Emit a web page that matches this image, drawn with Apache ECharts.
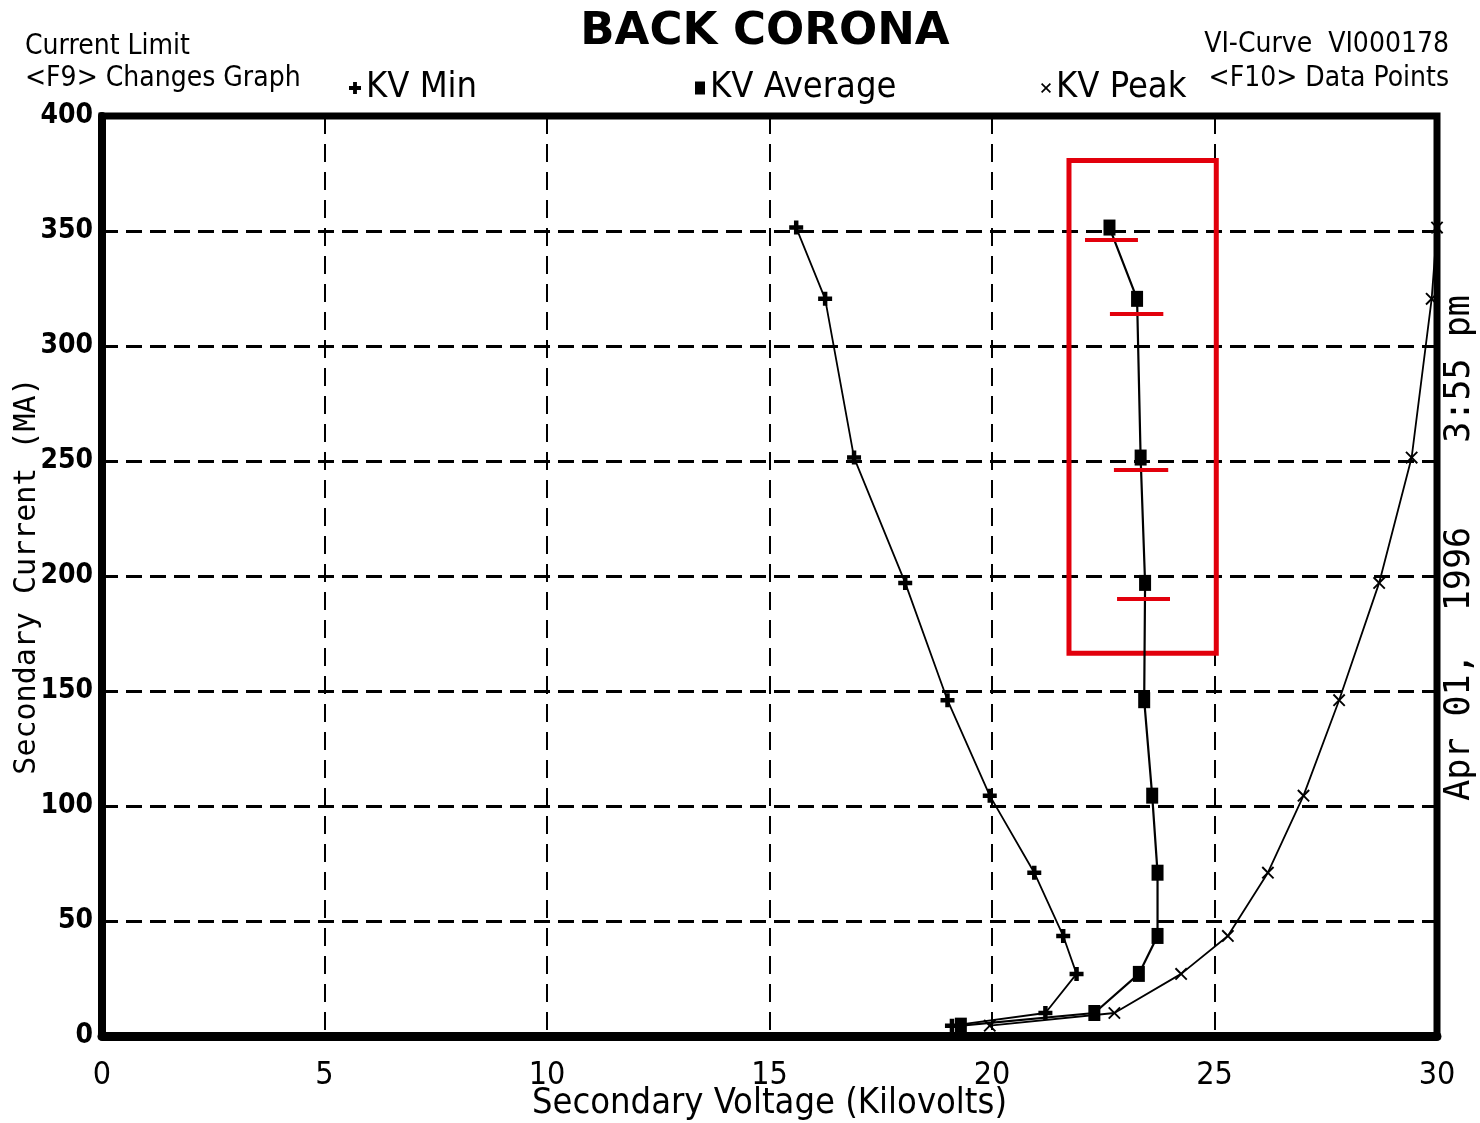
<!DOCTYPE html>
<html>
<head>
<meta charset="utf-8">
<title>BACK CORONA - VI Curve</title>
<script src="https://cdn.jsdelivr.net/npm/echarts@6/dist/echarts.min.js"></script>
<style>
  html, body { margin: 0; padding: 0; background: #fff; }
  #chart { width: 1480px; height: 1123px; }
</style>
</head>
<body>
<div id="chart"></div>
<script>
// Secondary current (mA) for each recorded step, shared by all three voltage readings
const currentMA = [4.5, 10, 27, 43.5, 71, 104.5, 146, 197, 251.5, 320.5, 351.5];
// Secondary voltage (kV) at each current step
const kvMin     = [19.1, 21.2, 21.9, 21.6, 20.95, 19.95, 19.0, 18.05, 16.9, 16.25, 15.6];
const kvAverage = [19.3, 22.3, 23.3, 23.72, 23.72, 23.6, 23.42, 23.44, 23.34, 23.26, 22.64];
const kvPeak    = [19.95, 22.75, 24.25, 25.3, 26.2, 27.0, 27.8, 28.7, 29.43, 29.88, 30.0];

// Axis ticks
const xTicks = [0, 5, 10, 15, 20, 25, 30];
const yTicks = [0, 50, 100, 150, 200, 250, 300, 350, 400];

// Highlight box around the flattening average curve (kV range, mA range)
const boxKV = [21.73, 25.04];
const boxMA = [166.4, 380.7];
// Short reference bars under the average points: [kV start, kV end, mA]
const barStartKV = [22.09, 22.65, 22.74, 22.81];
const barEndKV   = [23.28, 23.85, 23.96, 24.0];
const barMA      = [346.0, 314.2, 246.2, 189.9];

const NARROW = "'Liberation Sans Narrow', 'DejaVu Sans Condensed', 'Roboto', sans-serif";
const MONO = "'DejaVu Sans Mono', 'Liberation Mono', monospace";

const plusPath  = 'path://M3.4,0H6.6V3.4H10V6.6H6.6V10H3.4V6.6H0V3.4H3.4Z';
const thinPlus  = 'path://M4.4,0H5.6V4.4H10V5.6H5.6V10H4.4V5.6H0V4.4H4.4Z';
const crossPath = 'path://M1.2,0L5,3.8L8.8,0L10,1.2L6.2,5L10,8.8L8.8,10L5,6.2L1.2,10L0,8.8L3.8,5L0,1.2Z';

const pairs = (xs) => xs.map((v, i) => [v, currentMA[i]]);

const chart = echarts.init(document.getElementById('chart'), null, { renderer: 'canvas' });

const legendText = { fontFamily: NARROW, fontSize: 36, color: '#000' };

const option = {
  animation: false,
  backgroundColor: '#fff',
  grid: {
    left: 102, right: 43, top: 116, bottom: 87,
    outerBoundsMode: 'none', containLabel: false,
    show: true, borderColor: '#000', borderWidth: 7, backgroundColor: 'transparent'
  },
  legend: [
    { data: [{ name: 'KV Min', icon: plusPath }], left: 344, top: 65,
      itemWidth: 12, itemHeight: 12, selectedMode: false, textStyle: legendText },
    { data: [{ name: 'KV Average', icon: 'rect' }], left: 690, top: 65,
      itemWidth: 10, itemHeight: 13, selectedMode: false, textStyle: legendText },
    { data: [{ name: 'KV Peak', icon: crossPath }], left: 1036, top: 65,
      itemWidth: 10, itemHeight: 10, selectedMode: false, textStyle: legendText }
  ],
  xAxis: {
    type: 'value', min: xTicks[0], max: xTicks[xTicks.length - 1], interval: 5,
    name: 'Secondary Voltage (Kilovolts)', nameLocation: 'middle', nameGap: 50, nameMoveOverlap: false,
    nameTextStyle: { fontFamily: NARROW, fontSize: 36, color: '#000' },
    axisLine: { show: true, lineStyle: { color: '#000', width: 9 } },
    axisTick: { show: false },
    axisLabel: { fontFamily: NARROW, fontSize: 32, color: '#000', margin: 24 },
    splitLine: { show: true, lineStyle: { color: '#000', width: 2, type: [18, 10] } }
  },
  yAxis: {
    type: 'value', min: yTicks[0], max: yTicks[yTicks.length - 1], interval: 50,
    name: 'Secondary Current (MA)', nameLocation: 'middle', nameGap: 60, nameRotate: 90, nameMoveOverlap: false,
    nameTextStyle: { fontFamily: MONO, fontSize: 30, color: '#000' },
    axisLine: { show: true, lineStyle: { color: '#000', width: 8 } },
    axisTick: { show: false },
    axisLabel: { fontFamily: NARROW, fontWeight: 'bold', fontSize: 28, color: '#000', margin: 9 },
    splitLine: { show: true, lineStyle: { color: '#000', width: 3, type: [16, 8] } }
  },
  series: [
    {
      name: 'KV Min', type: 'line', data: pairs(kvMin),
      symbol: plusPath, symbolSize: 14, showAllSymbol: true,
      itemStyle: { color: '#000' }, lineStyle: { color: '#000', width: 1.8 },
      emphasis: { disabled: true }, z: 3
    },
    {
      name: 'KV Average', type: 'line', data: pairs(kvAverage),
      symbol: 'rect', symbolSize: [12, 16], showAllSymbol: true,
      itemStyle: { color: '#000' }, lineStyle: { color: '#000', width: 2.2 },
      emphasis: { disabled: true }, z: 3,
      markArea: {
        silent: true,
        itemStyle: { color: 'rgba(0,0,0,0)', borderColor: '#e2000c', borderWidth: 5 },
        data: [[{ coord: [boxKV[0], boxMA[1]] }, { coord: [boxKV[1], boxMA[0]] }]]
      },
      markLine: {
        silent: true, symbol: ['none', 'none'], label: { show: false },
        lineStyle: { color: '#e2000c', width: 4, type: 'solid' },
        emphasis: { disabled: true },
        data: barMA.map((ma, i) => [{ coord: [barStartKV[i], ma] }, { coord: [barEndKV[i], ma] }])
      }
    },
    {
      name: 'KV Peak', type: 'line', data: pairs(kvPeak),
      symbol: thinPlus, symbolRotate: 45, symbolSize: 16, showAllSymbol: true,
      itemStyle: { color: '#000' }, lineStyle: { color: '#000', width: 1.8 },
      emphasis: { disabled: true }, z: 3
    }
  ],
  graphic: [
    { type: 'text', x: 765, y: 10,
      style: { text: 'BACK CORONA', font: "bold 45px 'DejaVu Sans', sans-serif", fill: '#000', align: 'center' } },
    { type: 'text', x: 25, y: 31,
      style: { text: 'Current Limit\n<F9> Changes Graph', font: "28px " + NARROW, lineHeight: 32, fill: '#000' } },
    { type: 'text', x: 1449, y: 28,
      style: { text: 'VI-Curve  VI000178\n<F10> Data Points', font: "28px " + NARROW, lineHeight: 34,
               fill: '#000', align: 'right' } },
    { type: 'text', x: 1460, y: 548, rotation: Math.PI / 2,
      style: { text: 'Apr 01,  1996    3:55 pm', font: "35px " + MONO, fill: '#000',
               align: 'center', verticalAlign: 'middle' } }
  ]
};

chart.setOption(option);
</script>
</body>
</html>
